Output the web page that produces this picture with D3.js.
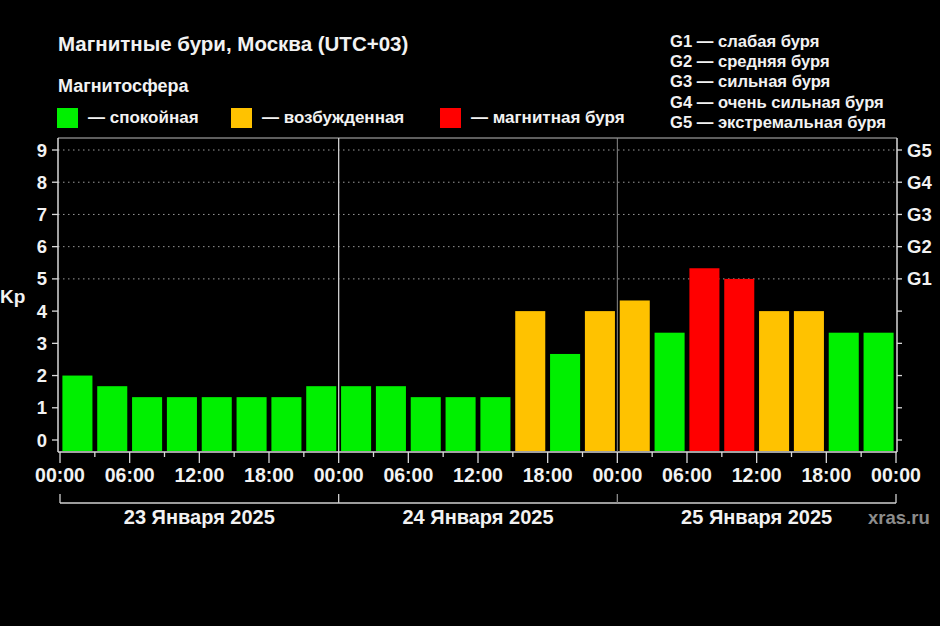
<!DOCTYPE html>
<html>
<head>
<meta charset="utf-8">
<script src="https://cdn.jsdelivr.net/npm/d3@7/dist/d3.min.js"></script>
<style>
html,body{margin:0;padding:0;background:#000;}
svg{display:block;}
text{font-family:"Liberation Sans",Arial,sans-serif;font-weight:bold;fill:#f2f2f2;}
</style>
</head>
<body>
<svg id="chart" width="940" height="626"></svg>
<script>
// ---- data ----
const kpValues = [2.0,1.67,1.33,1.33,1.33,1.33,1.33,1.67,
                  1.67,1.67,1.33,1.33,1.33,4.0,2.67,4.0,
                  4.33,3.33,5.33,5.0,4.0,4.0,3.33,3.33];
const kpLevel = ["calm","calm","calm","calm","calm","calm","calm","calm",
                 "calm","calm","calm","calm","calm","active","calm","active",
                 "active","calm","storm","storm","active","active","calm","calm"];
const dayLabels = ["23 Января 2025","24 Января 2025","25 Января 2025"];
const hourTickLabels = ["00:00","06:00","12:00","18:00","00:00","06:00","12:00","18:00","00:00","06:00","12:00","18:00","00:00"];
const yTicks = [0,1,2,3,4,5,6,7,8,9];
const gLabels = ["G1","G2","G3","G4","G5"];
const gLegend = ["G1 — слабая буря","G2 — средняя буря","G3 — сильная буря","G4 — очень сильная буря","G5 — экстремальная буря"];
const legendItems = [
  {key:"calm", label:"— спокойная"},
  {key:"active", label:"— возбужденная"},
  {key:"storm", label:"— магнитная буря"}
];
const colors = {calm:"#00f000", active:"#ffc200", storm:"#ff0000"};

// ---- layout ----
const svg = d3.select("#chart");
svg.append("rect").attr("width",940).attr("height",626).attr("fill","#000");

const pL = 58, pR = 897, pT = 138, pB = 452;
const x = d3.scaleLinear().domain([0,72]).range([60,896]);
const y = d3.scaleLinear().domain([0,9]).range([440,150]);

// grid (dotted) for G levels
const gridVals = [5,6,7,8,9];
svg.append("g").selectAll("line").data(gridVals).join("line")
  .attr("x1",pL).attr("x2",pR)
  .attr("y1",d=>y(d)).attr("y2",d=>y(d))
  .attr("stroke","#9a9a9a").attr("stroke-width",1).attr("stroke-dasharray","1.5,3.5");

// bars
svg.append("g").selectAll("rect").data(kpValues).join("rect")
  .attr("x",(d,i)=>x(i*3)+2.4)
  .attr("width",(d,i)=>x(i*3+3)-x(i*3)-4.8)
  .attr("y",d=>y(d))
  .attr("height",d=>pB-1-y(d))
  .attr("fill",(d,i)=>colors[kpLevel[i]]);

// frame
svg.append("line").attr("x1",pL).attr("x2",pR).attr("y1",pT).attr("y2",pT)
  .attr("stroke","#bdbdbd").attr("stroke-width",1);
svg.append("line").attr("x1",pL).attr("x2",pL).attr("y1",pT).attr("y2",pB)
  .attr("stroke","#d8d8d8").attr("stroke-width",1.5);
svg.append("line").attr("x1",pR).attr("x2",pR).attr("y1",pT).attr("y2",pB)
  .attr("stroke","#d8d8d8").attr("stroke-width",1.5);
svg.append("line").attr("x1",pL).attr("x2",pR).attr("y1",pB).attr("y2",pB)
  .attr("stroke","#d8d8d8").attr("stroke-width",1.5);

// day separators
svg.append("line").attr("x1",x(24)).attr("x2",x(24)).attr("y1",pT).attr("y2",pB)
  .attr("stroke","#d0d0d0").attr("stroke-width",1.3);
svg.append("line").attr("x1",x(48)).attr("x2",x(48)).attr("y1",pT).attr("y2",pB)
  .attr("stroke","#8a8a8a").attr("stroke-width",1);

// left y axis ticks & labels
const yl = svg.append("g");
yl.selectAll("line").data(yTicks).join("line")
  .attr("x1",pL-6).attr("x2",pL).attr("y1",d=>y(d)).attr("y2",d=>y(d))
  .attr("stroke","#d8d8d8").attr("stroke-width",1.3);
yl.selectAll("text").data(yTicks).join("text")
  .attr("x",47).attr("y",d=>y(d)+6.5).attr("text-anchor","end")
  .attr("font-size",18.5).text(d=>d);

// right axis ticks & G labels
const yr = svg.append("g");
yr.selectAll("line").data(yTicks).join("line")
  .attr("x1",pR).attr("x2",pR+5).attr("y1",d=>y(d)).attr("y2",d=>y(d))
  .attr("stroke","#d8d8d8").attr("stroke-width",1.3);
yr.selectAll("text").data(gLabels).join("text")
  .attr("x",907).attr("y",(d,i)=>y(i+5)+6.5)
  .attr("font-size",18.5).text(d=>d);

// Kp label
svg.append("text").attr("x",0).attr("y",303).attr("font-size",19).text("Kp");

// x ticks every 3h
const xTickVals = d3.range(0,73,3);
svg.append("g").selectAll("line").data(xTickVals).join("line")
  .attr("x1",d=>x(d)).attr("x2",d=>x(d))
  .attr("y1",pB).attr("y2",d=>d%6===0?pB+11:pB+5)
  .attr("stroke","#d8d8d8").attr("stroke-width",1.3);
svg.append("g").selectAll("text").data(hourTickLabels).join("text")
  .attr("x",(d,i)=>x(i*6)).attr("y",482).attr("text-anchor","middle")
  .attr("font-size",19.5).text(d=>d);

// date bracket
svg.append("line").attr("x1",x(0)).attr("x2",x(72)).attr("y1",503).attr("y2",503)
  .attr("stroke","#d0d0d0").attr("stroke-width",1.3);
svg.append("g").selectAll("line").data([0,24,48,72]).join("line")
  .attr("x1",d=>x(d)).attr("x2",d=>x(d)).attr("y1",494).attr("y2",503)
  .attr("stroke",d=>d===48?"#8a8a8a":"#d0d0d0").attr("stroke-width",1.3);
svg.append("g").selectAll("text").data(dayLabels).join("text")
  .attr("x",(d,i)=>x(i*24+12)).attr("y",524).attr("text-anchor","middle")
  .attr("font-size",20).text(d=>d);

svg.append("text").attr("x",868).attr("y",524).attr("font-size",18.5)
  .style("fill","#8c8c8c").text("xras.ru");

// title & legend
svg.append("text").attr("x",58).attr("y",51).attr("font-size",20.5)
  .text("Магнитные бури, Москва (UTC+03)");
svg.append("text").attr("x",58).attr("y",92).attr("font-size",18)
  .text("Магнитосфера");

const legX = [57,231,440];
const lg = svg.append("g").selectAll("g").data(legendItems).join("g")
  .attr("transform",(d,i)=>`translate(${legX[i]},108)`);
lg.append("rect").attr("width",21).attr("height",20).attr("fill",d=>colors[d.key]);
lg.append("text").attr("x",31).attr("y",15).attr("font-size",17).text(d=>d.label);

svg.append("g").selectAll("text").data(gLegend).join("text")
  .attr("x",670).attr("y",(d,i)=>47+i*20.2).attr("font-size",16.6).text(d=>d);
</script>
</body>
</html>
